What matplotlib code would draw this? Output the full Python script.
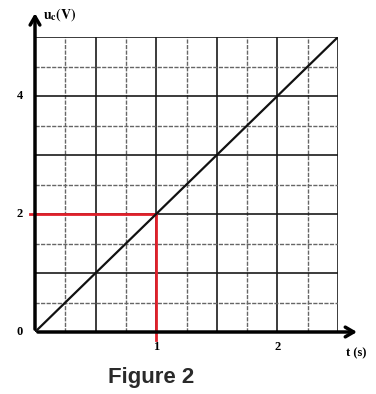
import numpy as np
import matplotlib
matplotlib.use('Agg')
import matplotlib.pyplot as plt

# data
t = [0, 2.5]
u = [0, 5]
t_read = 1
u_read = 2
x_ticks = [1, 2]
y_ticks = [0, 2, 4]

t_grid = np.arange(0.25, 2.51, 0.25)
u_grid = np.arange(0.5, 5.01, 0.5)

plt.rcParams['mathtext.fontset'] = 'stix'

fig = plt.figure(figsize=(3.76, 3.94), dpi=100)
ax = fig.add_axes([35/376, 62/394, 303/376, 295/394])
ax.set_xlim(0, 2.5)
ax.set_ylim(0, 5)
ax.axis('off')

for x in t_grid:
    dark = abs(x * 2 - round(x * 2)) < 1e-6 or x == 2.5
    ax.axvline(x, color='#1a1a1a' if dark else '#666666', lw=1.2 if dark else 1.0,
               ls='-' if dark else (0, (3, 1)))
for y in u_grid:
    dark = abs(y - round(y)) < 1e-6
    ax.axhline(y, color='#1a1a1a' if dark else '#666666', lw=1.2 if dark else 1.0,
               ls='-' if dark else (0, (3, 1)))

# red reading lines
ax.plot([-0.04, t_read], [u_read, u_read], color='#e0202a', lw=2, clip_on=False, zorder=3)
ax.plot([t_read, t_read], [u_read, -0.13], color='#e0202a', lw=2, clip_on=False, zorder=3)

ax.plot(t, u, color='#111111', lw=1.6, zorder=4)

# axes with arrows
ax.annotate('', xy=(0, 5.45), xytext=(0, 0), annotation_clip=False,
            arrowprops=dict(arrowstyle='->,head_length=0.6,head_width=0.35', lw=2.5, color='black'))
ax.annotate('', xy=(2.68, 0), xytext=(0, 0), annotation_clip=False,
            arrowprops=dict(arrowstyle='->,head_length=0.6,head_width=0.35', lw=2.5, color='black'))

for v in y_ticks:
    ax.text(-0.1, v, str(v), ha='right', va='center', fontsize=9,
            family='Liberation Serif', weight='bold', clip_on=False)
for v in x_ticks:
    ax.text(v, -0.16, str(v), ha='center', va='top', fontsize=9,
            family='Liberation Serif', weight='bold', clip_on=False)

ax.text(0.07, 5.38, r'$\mathbf{u}_{\mathbf{c}}\mathbf{(V)}$', ha='left', va='center',
        fontsize=10, clip_on=False)
ax.text(2.57, -0.36, 't (s)', ha='left', va='center', fontsize=9,
        family='Liberation Serif', weight='bold', clip_on=False)

fig.text(151/376, 1 - 378/394, 'Figure 2', ha='center', va='center', fontsize=16,
         family='Liberation Sans', weight='bold', color='#2a2a2a')

fig.savefig('out.png', dpi=100)
